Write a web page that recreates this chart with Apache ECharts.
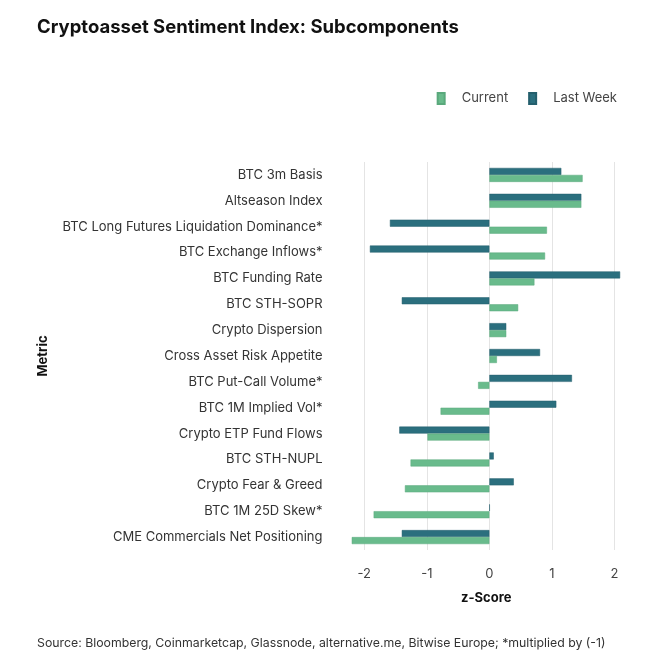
<!DOCTYPE html>
<html>
<head>
<meta charset="utf-8">
<script src="https://cdn.jsdelivr.net/npm/echarts@6/dist/echarts.min.js"></script>
<style>
html,body{margin:0;padding:0;background:#fff;}
#chart{width:671px;height:671px;}
</style>
</head>
<body>
<div id="chart"></div>
<script>
const categories = [
  "BTC 3m Basis",
  "Altseason Index",
  "BTC Long Futures Liquidation Dominance*",
  "BTC Exchange Inflows*",
  "BTC Funding Rate",
  "BTC STH-SOPR",
  "Crypto Dispersion",
  "Cross Asset Risk Appetite",
  "BTC Put-Call Volume*",
  "BTC 1M Implied Vol*",
  "Crypto ETP Fund Flows",
  "BTC STH-NUPL",
  "Crypto Fear & Greed",
  "BTC 1M 25D Skew*",
  "CME Commercials Net Positioning"
];
const currentValues = [1.49, 1.47, 0.92, 0.89, 0.72, 0.46, 0.27, 0.12, -0.18, -0.78, -0.99, -1.26, -1.35, -1.85, -2.20];
const lastWeekValues = [1.15, 1.47, -1.59, -1.91, 2.09, -1.40, 0.27, 0.81, 1.32, 1.07, -1.44, 0.07, 0.39, 0.005, -1.40];
const xTicks = [-2, -1, 0, 1, 2];

const FONT = "Inter, 'Liberation Sans', sans-serif";
const chart = echarts.init(document.getElementById('chart'), null, {renderer: 'canvas'});
chart.setOption({
  animation: false,
  backgroundColor: '#ffffff',
  title: [
    {text: 'Cryptoasset Sentiment Index: Subcomponents', left: 37, top: 18, padding: 0,
     textStyle: {fontFamily: FONT, fontSize: 18.5, fontWeight: 'bold', color: '#111'}},
    {text: 'Source: Bloomberg, Coinmarketcap, Glassnode, alternative.me, Bitwise Europe; *multiplied by (-1)',
     left: 37, top: 637, padding: 0, textStyle: {fontFamily: FONT, fontSize: 12.3, fontWeight: 'normal', color: '#333'}}
  ],
  legend: {
    data: ['Current', 'Last Week'],
    right: 49, top: 87, itemWidth: 7, itemHeight: 11, itemGap: 20,
    icon: 'rect',
    textStyle: {fontFamily: FONT, fontSize: 13, color: '#444', padding: [0, 0, 0, 12]}
  },
  grid: {left: 345.5, right: 44, top: 162, bottom: 121, containLabel: false},
  xAxis: {
    type: 'value', min: -2.3, max: 2.2,
    name: 'z-Score', nameLocation: 'middle', nameGap: 42,
    nameTextStyle: {fontFamily: FONT, fontSize: 13, fontWeight: 'bold', color: '#111'},
    axisLine: {show: false},
    axisTick: {show: false, customValues: xTicks},
    axisLabel: {customValues: xTicks, fontFamily: FONT, fontSize: 13, color: '#444', margin: 18},
    splitLine: {show: true, lineStyle: {color: '#e4e4e4', width: 1}}
  },
  yAxis: {
    type: 'category', data: categories, inverse: true,
    name: 'Metric', nameLocation: 'middle', nameRotate: 90, nameGap: 296,
    nameTextStyle: {fontFamily: FONT, fontSize: 13, fontWeight: 'bold', color: '#111'},
    axisLine: {show: false}, axisTick: {show: false},
    axisLabel: {fontFamily: FONT, fontSize: 13, color: '#333', margin: 23}
  },
  series: [
    {name: 'Last Week', type: 'bar', data: lastWeekValues, barWidth: 7, barGap: '0%',
     itemStyle: {color: '#2b6f7e', borderColor: '#245f6d', borderWidth: 0.5}},
    {name: 'Current', type: 'bar', data: currentValues, barWidth: 7, barGap: '0%',
     itemStyle: {color: '#69bb8c', borderColor: '#5aa97c', borderWidth: 0.5}}
  ]
});
</script>
</body>
</html>
